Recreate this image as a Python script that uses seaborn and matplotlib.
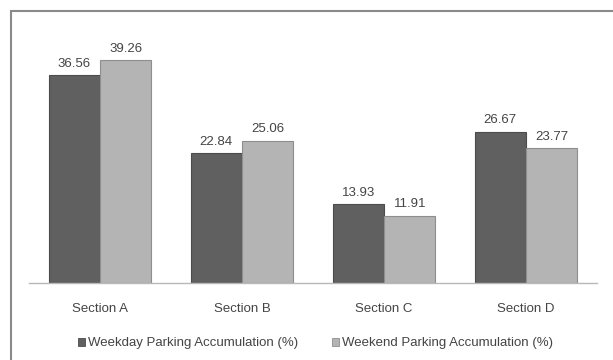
import matplotlib
matplotlib.use("Agg")
import matplotlib.pyplot as plt
from matplotlib.patches import Patch, Rectangle
import pandas as pd
import seaborn as sns

sections = ["Section A", "Section B", "Section C", "Section D"]
weekday = [36.56, 22.84, 13.93, 26.67]
weekend = [39.26, 25.06, 11.91, 23.77]
series_names = ["Weekday Parking Accumulation (%)", "Weekend Parking Accumulation (%)"]
colors = ["#606060", "#b4b4b4"]
edges = ["#4c4c4c", "#8e8e8e"]

sns.set_theme(style="white")
plt.rcParams["font.family"] = ["Liberation Sans", "DejaVu Sans"]
text_color = "#444444"

df = pd.DataFrame({
    "section": sections * 2,
    "value": weekday + weekend,
    "series": [series_names[0]] * 4 + [series_names[1]] * 4,
})

fig = plt.figure(figsize=(6.13, 3.6), dpi=100)
ax = fig.add_axes([29 / 613, 1 - 283.3 / 360, 568 / 613, 255.8 / 360])

sns.barplot(
    data=df,
    x="section",
    y="value",
    hue="series",
    palette=colors,
    width=0.725,
    saturation=1,
    ax=ax,
    legend=False,
)

for container, ec in zip(ax.containers, edges):
    for bar in container:
        bar.set_edgecolor(ec)
        bar.set_linewidth(0.8)
    ax.bar_label(container, fmt="%.2f", padding=4, fontsize=9.5, color=text_color)

ax.set_ylim(0, 45)
ax.set_xlim(-0.5, 3.5)
ax.set_xlabel("")
ax.set_ylabel("")
ax.set_yticks([])
ax.tick_params(axis="x", length=0, pad=14, labelsize=9.5, labelcolor=text_color)
for side in ["top", "left", "right"]:
    ax.spines[side].set_visible(False)
ax.spines["bottom"].set_color("#b8b8b8")
ax.spines["bottom"].set_linewidth(1)

handles = [Patch(facecolor=c, edgecolor=e, linewidth=0.6) for c, e in zip(colors, edges)]
fig.legend(
    handles,
    series_names,
    loc="center",
    bbox_to_anchor=(315.5 / 613, 1 - 343.3 / 360),
    ncol=2,
    frameon=False,
    fontsize=9.5,
    labelcolor=text_color,
    handlelength=0.55,
    handleheight=0.55,
    handletextpad=0.2,
    columnspacing=2.6,
)

# outer chart frame (cropped on right and bottom)
fig.patches.append(Rectangle(
    (11 / 613, -0.1), 1.2, 1 - 11 / 360 + 0.1,
    transform=fig.transFigure, fill=False, edgecolor="#8a8a8a", linewidth=1.5,
))

fig.savefig("out.png", dpi=100)
